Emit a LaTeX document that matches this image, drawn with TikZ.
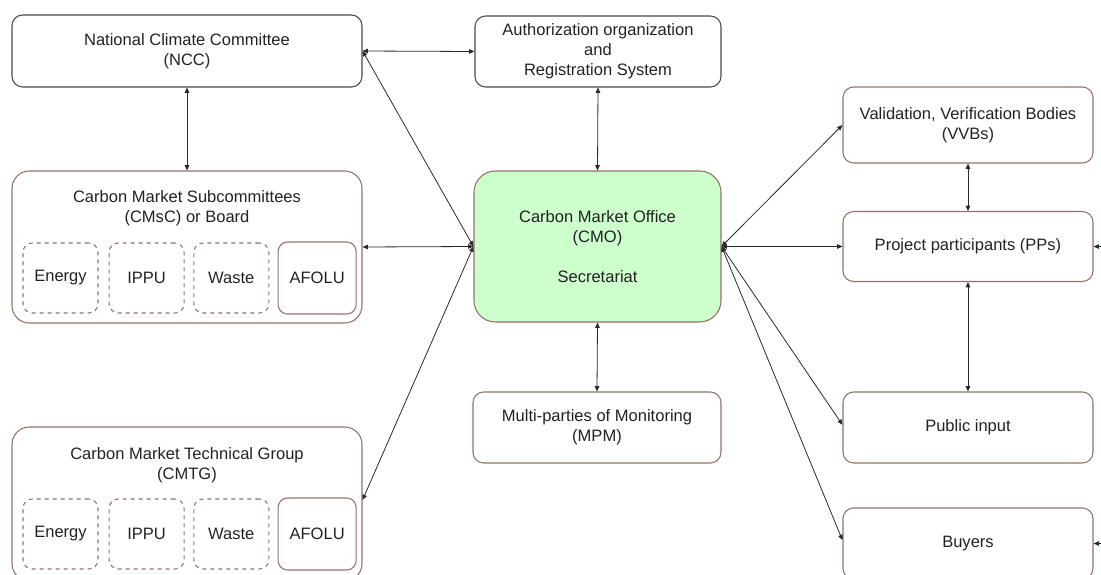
\documentclass[tikz,border=0pt]{standalone}
\usepackage{xcolor}
\usepackage{fontspec}
\setmainfont{Liberation Sans}
\usepackage{tikz}
\usetikzlibrary{positioning, arrows.meta}
\definecolor{greyline}{HTML}{4A4A4A}
\definecolor{brownline}{HTML}{93716A}
\definecolor{officegreen}{HTML}{CCFFCC}
\definecolor{linkgrey}{HTML}{2A2A2A}
\definecolor{textgrey}{HTML}{222222}

\tikzset{
  box/.style={draw=brownline, line width=0.8pt, rounded corners=8pt, align=center,
              text=textgrey, inner sep=2pt, minimum width=187.5pt, minimum height=53.25pt},
  greybox/.style={box, draw=greyline},
  groupbox/.style={box, rounded corners=13pt, minimum width=262.5pt},
  sector/.style={box, dashed, rounded corners=7pt, minimum width=56.25pt, minimum height=52.5pt},
  sectorfix/.style={box, rounded corners=7pt, minimum width=58.5pt, minimum height=54pt},
  link/.style={draw=linkgrey, line width=0.6pt,
               {Triangle[length=4pt,width=3.4pt]}-{Triangle[length=4pt,width=3.4pt]}},
  inlink/.style={draw=linkgrey, line width=0.6pt, -{Triangle[length=4pt,width=3.4pt]}}
}

\begin{document}
\begin{tikzpicture}[x=0.75pt, y=-0.75pt, font=\fontsize{12.4}{15}\selectfont]
  \useasboundingbox (0,0) rectangle (1101,575);

  % left column
  \node[greybox, minimum width=262.5pt, minimum height=54pt] (ncc) at (187,51)
    {National Climate Committee\\(NCC)};

  \node[groupbox, minimum height=114pt] (cmsc) at (187,247) {};
  \node[text=textgrey, align=center] (cmsctitle) at (187,208)
    {Carbon Market Subcommittees\\(CMsC) or Board};
  \node[sector] (cmscenergy) at (60.5,278) {Energy};
  \node[sector, right=7.5pt of cmscenergy] (cmscippu) {IPPU};
  \node[sector, right=6.5pt of cmscippu] (cmscwaste) {Waste};
  \node[sectorfix, right=6.2pt of cmscwaste] (cmscafolu) {AFOLU};

  \node[groupbox, minimum height=115.5pt] (cmtg) at (187,504) {};
  \node[text=textgrey, align=center] (cmtgtitle) at (187,465)
    {Carbon Market Technical Group\\(CMTG)};
  \node[sector] (cmtgenergy) at (60.5,534) {Energy};
  \node[sector, right=7.5pt of cmtgenergy] (cmtgippu) {IPPU};
  \node[sector, right=6.5pt of cmtgippu] (cmtgwaste) {Waste};
  \node[sectorfix, right=6.2pt of cmtgwaste] (cmtgafolu) {AFOLU};

  % middle column
  \node[greybox, minimum width=184.5pt] (auth) at (598,51.5)
    {Authorization organization\\and\\Registration System};
  \node[box, fill=officegreen, rounded corners=16pt, minimum width=185.25pt,
        minimum height=113.25pt] (cmo) at (597.5,246.5)
    {Carbon Market Office\\(CMO)\\[15pt]Secretariat};
  \node[box, minimum width=186pt] (mpm) at (597,427.5)
    {Multi-parties of Monitoring\\(MPM)};

  % right column
  \node[box, minimum height=57pt] (vvb) at (968,125)
    {Validation, Verification Bodies\\(VVBs)};
  \node[box, minimum height=52.5pt] (pps) at (968,246.5) {Project participants (PPs)};
  \node[box] (pub) at (968,427.5) {Public input};
  \node[box] (buy) at (968,543.5) {Buyers};

  \coordinate (ppsin) at (1101,246.5);
  \coordinate (buyin) at (1101,543.5);

  % connectors
  \draw[link] (ncc.east) -- (auth.west);
  \draw[link] (ncc.south) -- (cmsc.north);
  \draw[link] (cmo.west) -- (ncc.east);
  \draw[link] (cmo.west) -- (cmsc.east);
  \draw[link] (cmo.west) -- ([yshift=3pt]cmtg.east);
  \draw[link] (auth.south) -- (cmo.north);
  \draw[link] (cmo.south) -- (mpm.north);
  \draw[link] (cmo.east) -- (vvb.west);
  \draw[link] (cmo.east) -- (pps.west);
  \draw[link] (cmo.east) -- ([yshift=2pt]pub.west);
  \draw[link] (cmo.east) -- ([yshift=2.5pt]buy.west);
  \draw[link] (vvb.south) -- (pps.north);
  \draw[link] (pps.south) -- (pub.north);
  \draw[inlink] (ppsin) -- (pps.east);
  \draw[inlink] (buyin) -- (buy.east);
\end{tikzpicture}
\end{document}
